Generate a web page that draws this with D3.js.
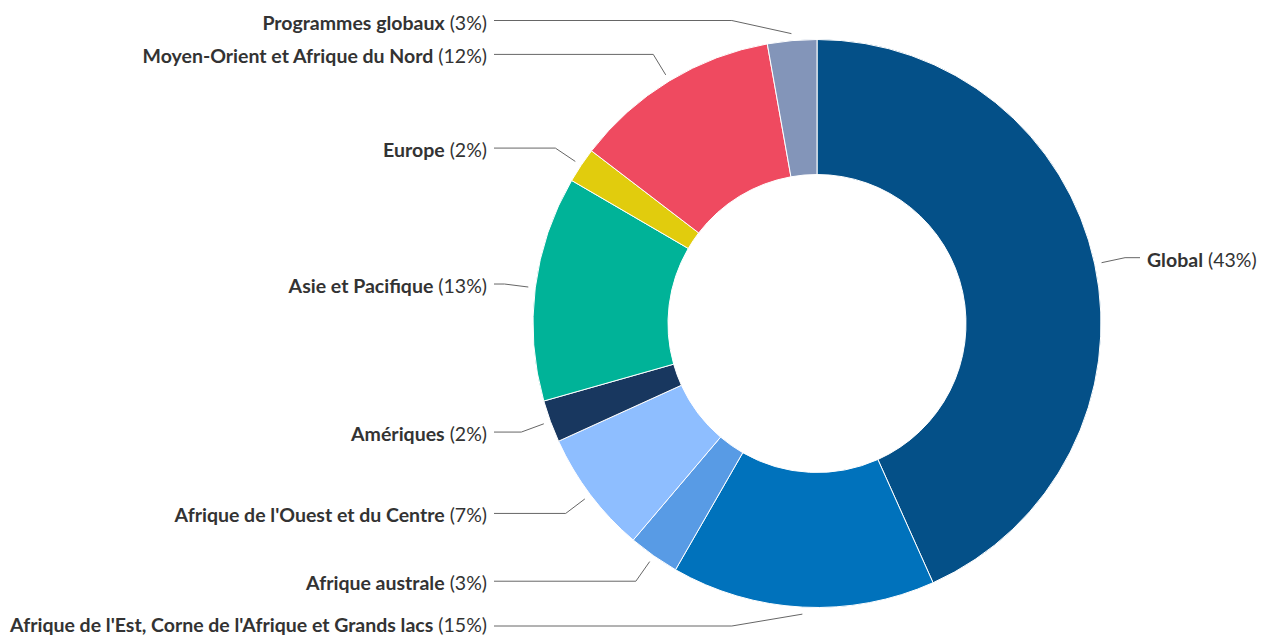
<!DOCTYPE html>
<html lang="fr">
<head>
    <meta charset="UTF-8">
    <title>Répartition par région</title>
    <script src="https://d3js.org/d3.v7.min.js"></script>
    <style>
        body {
            margin: 0;
            padding: 0;
            background: #fff;
            font-family: Lato, "Open Sans", sans-serif;
        }

        .label {
            font-size: 19.5px;
            fill: #333;
        }

        .label .name {
            font-weight: bold;
        }

        .connector {
            fill: none;
            stroke: #666;
            stroke-width: 1px;
        }
    </style>
</head>
<body>
<div id="chart"></div>
<script>

    // Data, clockwise from 12 o'clock
    const categories = [
        "Global",
        "Afrique de l'Est, Corne de l'Afrique et Grands lacs",
        "Afrique australe",
        "Afrique de l'Ouest et du Centre",
        "Amériques",
        "Asie et Pacifique",
        "Europe",
        "Moyen-Orient et Afrique du Nord",
        "Programmes globaux"
    ];
    const values = [43.3, 15.0, 2.9, 7.0, 2.4, 12.8, 2.0, 11.8, 2.8];
    const colors = [
        "#045088", "#0072bc", "#589be5", "#8ebeff", "#18375f",
        "#00b398", "#e1cc0d", "#ef4a60", "#8395b9"
    ];

    const width = 1266, height = 637;
    const cx = 817, cy = 323.5;
    const outerR = 284, innerR = 149;

    const svg = d3.select("#chart")
        .append("svg")
        .attr("width", width)
        .attr("height", height);

    const total = d3.sum(values);
    const slices = categories.map((c, i) => ({ name: c, value: values[i], color: colors[i] }));

    const pie = d3.pie().value(d => d.value).sort(null);
    const arc = d3.arc().innerRadius(innerR).outerRadius(outerR);

    const g = svg.append("g").attr("transform", `translate(${cx},${cy})`);

    const arcs = pie(slices);

    g.selectAll("path.slice")
        .data(arcs)
        .enter()
        .append("path")
        .attr("class", "slice")
        .attr("d", arc)
        .attr("fill", d => d.data.color)
        .attr("stroke", "#fff")
        .attr("stroke-width", 1);

    // polar helper: angle 0 at top, clockwise
    const polar = (a, r) => [r * Math.sin(a), -r * Math.cos(a)];

    const minY = 20.5 - cy, maxY = 626 - cy;
    const maxBaseline = height - 5 - cy;

    arcs.forEach(d => {
        const a = (d.startAngle + d.endAngle) / 2;
        const right = Math.sin(a) > 0;
        const side = right ? 1 : -1;
        const end = polar(a, outerR + 7);
        let bend = polar(a, outerR + 31);
        let ly = bend[1];
        if (ly < minY || ly > maxY) {
            // label pushed back inside: crook the line instead
            ly = Math.max(minY, Math.min(maxY, ly));
            bend = [side * outerR * 0.3, ly];
        }
        const lineX = side * (outerR + 39);
        const textX = side * (outerR + 46);

        g.append("path")
            .attr("class", "connector")
            .attr("d", d3.line()([[lineX, ly], bend, end]));

        const pct = Math.round(d.data.value / total * 100);
        const t = g.append("text")
            .attr("class", "label")
            .attr("x", textX)
            .attr("y", Math.min(ly + 9, maxBaseline))
            .attr("text-anchor", right ? "start" : "end");
        t.append("tspan").attr("class", "name").text(d.data.name);
        t.append("tspan").text(` (${pct}%)`);
    });

</script>
</body>
</html>
